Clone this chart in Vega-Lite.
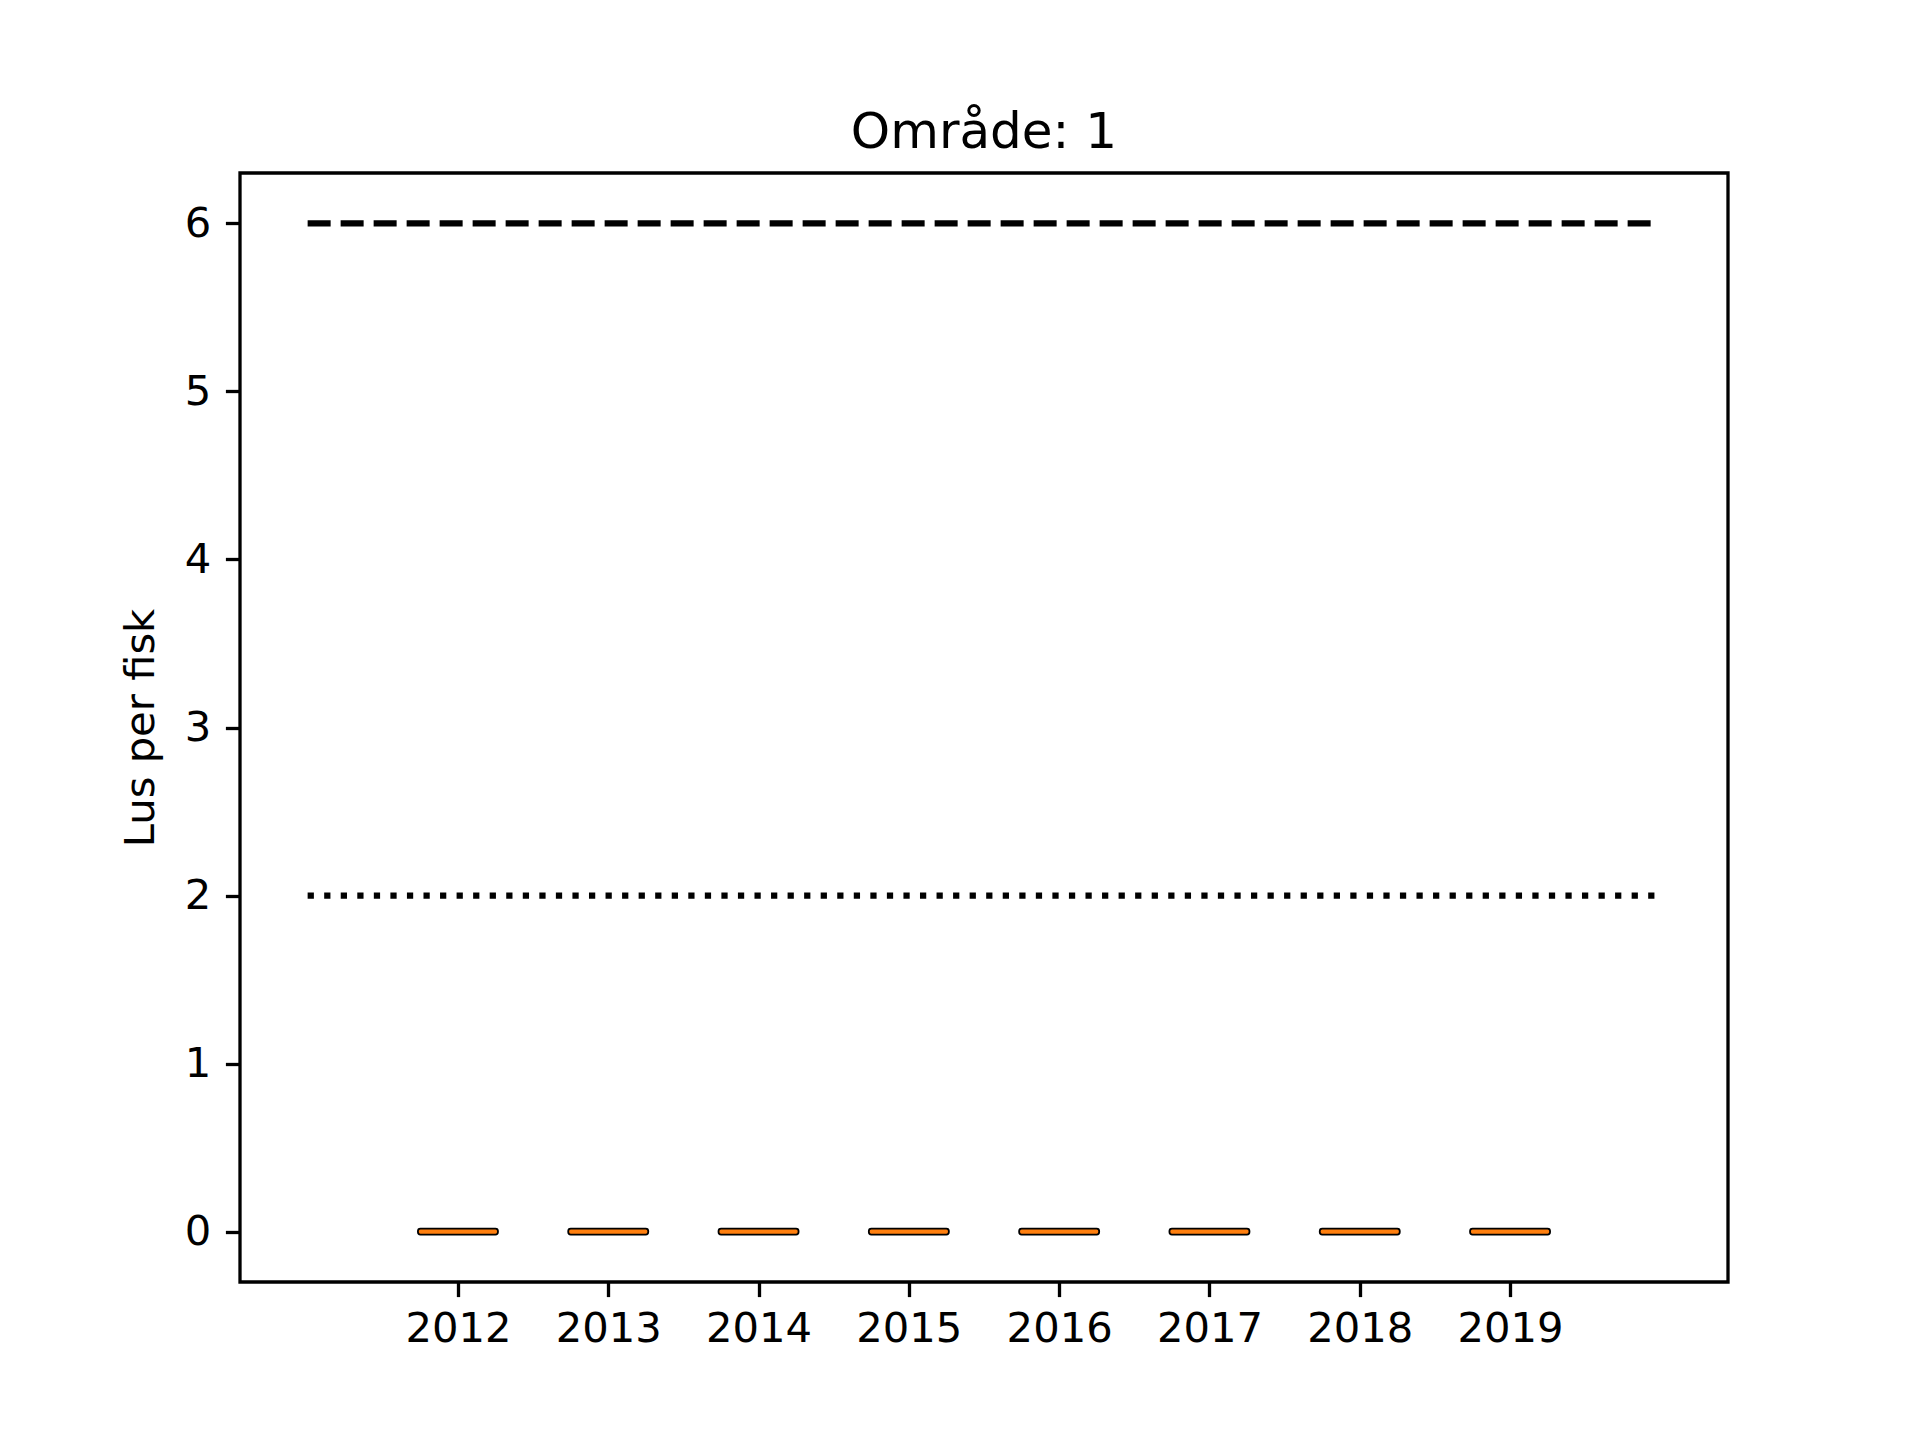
{
  "$schema": "https://vega.github.io/schema/vega-lite/v6.json",
  "width": 1488,
  "height": 1109,
  "autosize": {"type": "none"},
  "padding": {"left": 240, "top": 173, "right": 192, "bottom": 158},
  "background": "white",
  "title": {"text": "Område: 1", "fontSize": 50, "fontWeight": "normal", "font": "DejaVu Sans", "color": "black", "offset": 15},
  "config": {
    "view": {"stroke": "black", "strokeWidth": 3.3},
    "axis": {
      "domain": false, "grid": false, "tickColor": "black", "tickWidth": 3.3, "tickSize": 14.6,
      "labelFont": "DejaVu Sans", "labelFontSize": 41.7, "labelColor": "black", "labelPadding": 12,
      "titleFont": "DejaVu Sans", "titleFontSize": 41.7, "titleFontWeight": "normal", "titleColor": "black"
    }
  },
  "layer": [
    {
      "data": {"values": [{"year": 2011, "value": 6}, {"year": 2020, "value": 6}]},
      "mark": {"type": "line", "color": "black", "strokeWidth": 6.25, "strokeDash": [23, 10]},
      "encoding": {
        "x": {"field": "year", "type": "quantitative", "scale": {"domain": [2010.55, 2020.45], "nice": false, "zero": false},
              "axis": {"values": [2012, 2013, 2014, 2015, 2016, 2017, 2018, 2019], "format": "d", "title": null}},
        "y": {"field": "value", "type": "quantitative", "scale": {"domain": [-0.3, 6.3], "nice": false, "zero": false},
              "axis": {"values": [0, 1, 2, 3, 4, 5, 6], "format": "d", "labelPadding": 14.6, "title": "Lus per fisk", "titlePadding": 22}}
      }
    },
    {
      "data": {"values": [{"year": 2011, "value": 2}, {"year": 2020, "value": 2}]},
      "mark": {"type": "line", "color": "black", "strokeWidth": 6.25, "strokeDash": [6.25, 10.3]},
      "encoding": {
        "x": {"field": "year", "type": "quantitative"},
        "y": {"field": "value", "type": "quantitative"}
      }
    },
    {
      "data": {"values": [
        {"year": 2012, "median": 0}, {"year": 2013, "median": 0}, {"year": 2014, "median": 0}, {"year": 2015, "median": 0},
        {"year": 2016, "median": 0}, {"year": 2017, "median": 0}, {"year": 2018, "median": 0}, {"year": 2019, "median": 0}
      ]},
      "mark": {"type": "tick", "orient": "horizontal", "fill": "#ff7f0e", "stroke": "black", "strokeWidth": 1.8, "opacity": 1, "fillOpacity": 1, "thickness": 6, "size": 80, "cornerRadius": 2.5},
      "encoding": {
        "x": {"field": "year", "type": "quantitative"},
        "y": {"field": "median", "type": "quantitative"}
      }
    }
  ]
}
